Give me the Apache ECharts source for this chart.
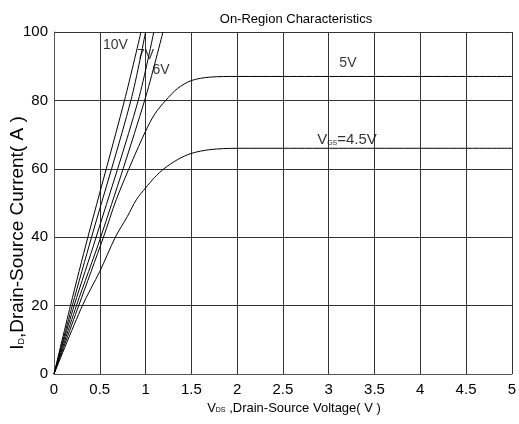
<!DOCTYPE html>
<html>
<head>
<meta charset="utf-8">
<script src="https://cdn.jsdelivr.net/npm/echarts@6/dist/echarts.min.js"></script>
<style>
  html, body { margin: 0; padding: 0; background: #fff; }
  #chart { width: 519px; height: 424px; }
</style>
</head>
<body>
<div id="chart"></div>
<script>
// V_DS (V) / I_D (A) points, one pair of arrays per gate voltage
const vgs10X = [0, 0.18, 0.37, 0.77, 0.95];
const vgs10Y = [0, 20, 40, 80, 100];
const vgs8X = [0, 0.2, 0.41, 0.84, 1.0];
const vgs8Y = [0, 20, 40, 80, 100];
const vgs7X = [0, 0.22, 0.46, 0.92, 1.09];
const vgs7Y = [0, 20, 40, 80, 100];
const vgs6X = [0, 0.245, 0.51, 0.99, 1.19];
const vgs6Y = [0, 20, 40, 80, 100];
const vgs5X = [0, 0.27, 0.54, 0.68, 0.85, 1.0, 1.1, 1.22, 1.35, 1.5, 1.7, 2.0, 2.5, 5.0];
const vgs5Y = [0, 20, 40, 51, 62, 71, 76, 80, 83.5, 85.8, 86.8, 87, 87, 87];
const vgs45X = [0, 0.31, 0.5, 0.67, 0.8, 0.9, 1.0, 1.1, 1.2, 1.35, 1.5, 1.7, 2.0, 2.5, 5.0];
const vgs45Y = [0, 20, 30, 40, 46, 51, 54.4, 57.5, 60, 62.7, 64.5, 65.6, 66, 66, 66];

const xTicks = [0, 0.5, 1, 1.5, 2, 2.5, 3, 3.5, 4, 4.5, 5];
const yTicks = [0, 20, 40, 60, 80, 100];

// curve labels
const labelText = ['10V', '7V', '6V', '5V', '{v|V}{s|GS}{v|=4.5V}'];
const labelX = [0.67, 1.0, 1.17, 3.21, 3.2];
const labelY = [96.2, 93.3, 88.9, 91, 68.4];

const font = '"Liberation Sans", sans-serif';

const pairs = (xs, ys) => xs.map((x, i) => [x, ys[i]]);

const curve = (name, xs, ys, smooth) => ({
    name: name,
    type: 'line',
    data: pairs(xs, ys),
    smooth: smooth,
    symbol: 'none',
    lineStyle: { color: '#000', width: 1 },
    clip: true,
    z: 3
});

const chart = echarts.init(document.getElementById('chart'));

const option = {
    animation: false,
    title: {
        text: 'On-Region Characteristics',
        left: 291,
        top: 8,
        textAlign: 'center',
        textStyle: { fontFamily: font, fontSize: 13, fontWeight: 'normal', color: '#000' }
    },
    grid: { left: 54, right: 2, top: 32, bottom: 50 },
    xAxis: {
        type: 'value',
        min: xTicks[0],
        max: xTicks[xTicks.length - 1],
        interval: 0.5,
        axisLine: { show: true, lineStyle: { color: '#555' } },
        axisTick: { show: false },
        axisLabel: { fontFamily: font, fontSize: 15, color: '#000', margin: 8 },
        splitLine: { show: true, lineStyle: { color: '#333', width: 1 } }
    },
    yAxis: {
        type: 'value',
        min: yTicks[0],
        max: yTicks[yTicks.length - 1],
        interval: 20,
        axisLine: { show: true, lineStyle: { color: '#555' } },
        axisTick: { show: false },
        axisLabel: { fontFamily: font, fontSize: 15, color: '#000', margin: 6 },
        splitLine: { show: true, lineStyle: { color: '#333', width: 1 } }
    },
    graphic: [
        {
            type: 'text',
            x: 18,
            y: 233,
            rotation: Math.PI / 2,
            style: {
                text: '{v|I}{s|D}{v|,Drain-Source Current( A )}',
                align: 'center',
                verticalAlign: 'middle',
                rich: {
                    v: { fontFamily: font, fontSize: 19, fill: '#000' },
                    s: { fontFamily: font, fontSize: 9, fill: '#000', padding: [8, 0, 0, 0] }
                }
            }
        },
        {
            type: 'text',
            x: 294,
            y: 408,
            style: {
                text: '{v|V}{s|DS}{v| ,Drain-Source Voltage( V )}',
                align: 'center',
                verticalAlign: 'middle',
                rich: {
                    v: { fontFamily: font, fontSize: 13, fill: '#000' },
                    s: { fontFamily: font, fontSize: 7, fill: '#000', padding: [5, 0, 0, 0] }
                }
            }
        }
    ],
    series: [
        curve('10V', vgs10X, vgs10Y, 0.3),
        curve('8V', vgs8X, vgs8Y, 0.3),
        curve('7V', vgs7X, vgs7Y, 0.3),
        curve('6V', vgs6X, vgs6Y, 0.3),
        curve('5V', vgs5X, vgs5Y, 0.3),
        curve('4.5V', vgs45X, vgs45Y, 0.3),
        {
            name: 'labels',
            type: 'scatter',
            symbolSize: 0,
            silent: true,
            z: 5,
            data: labelText.map((t, i) => ({ value: [labelX[i], labelY[i]], text: t })),
            label: {
                show: true,
                position: 'inside',
                formatter: p => p.data.text,
                fontFamily: font,
                fontSize: 14,
                color: '#000',
                rich: {
                    v: { fontFamily: font, fontSize: 15, color: '#000' },
                    s: { fontFamily: font, fontSize: 7, color: '#000', padding: [6, 0, 0, 0] }
                }
            }
        }
    ]
};

chart.setOption(option);
</script>
</body>
</html>
